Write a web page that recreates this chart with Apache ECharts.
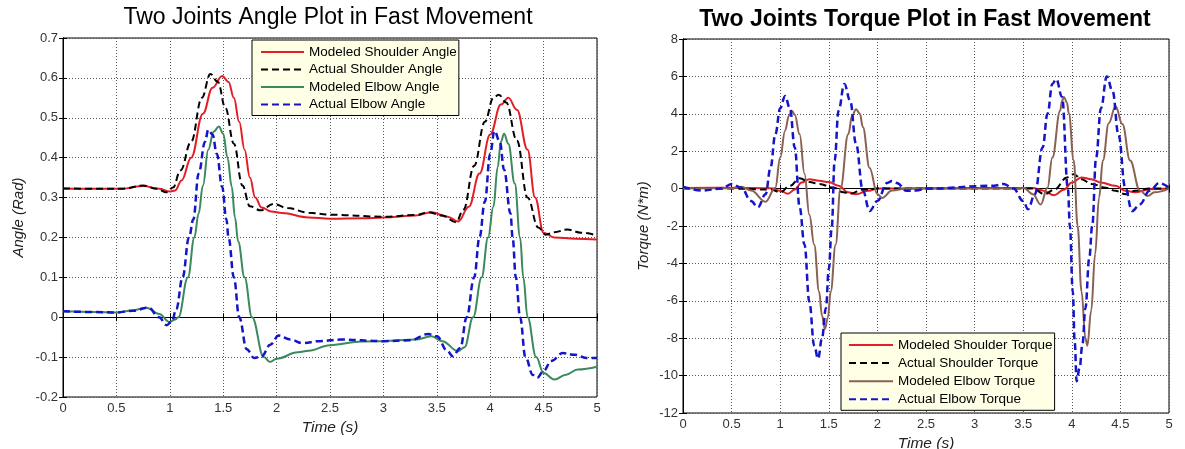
<!DOCTYPE html>
<html>
<head>
<meta charset="utf-8">
<script src="https://cdn.jsdelivr.net/npm/echarts@6/dist/echarts.min.js"></script>
<style>
  html, body { margin: 0; padding: 0; background: #fff; }
</style>
</head>
<body>
<div id="chart" style="width:1185px;height:449px"></div>
<script>
// ---- left plot: joint angles, [time (s), angle (rad)] ----
const shoulderAngleModel = [
  [0, 0.323], [0.3, 0.322], [0.55, 0.322], [0.75, 0.329], [0.9, 0.322], [1.0, 0.315], [1.05, 0.318],
  [1.11, 0.343], [1.2, 0.40], [1.31, 0.51], [1.4, 0.575], [1.49, 0.605], [1.55, 0.59], [1.6, 0.55],
  [1.65, 0.49], [1.7, 0.42], [1.75, 0.35], [1.8, 0.3], [1.86, 0.275], [1.95, 0.265], [2.05, 0.261],
  [2.3, 0.25], [2.5, 0.247], [2.8, 0.248], [3.0, 0.25], [3.3, 0.255], [3.45, 0.263], [3.6, 0.252],
  [3.7, 0.24], [3.8, 0.277], [3.9, 0.36], [4.0, 0.458], [4.1, 0.533], [4.17, 0.55], [4.25, 0.52],
  [4.35, 0.42], [4.42, 0.3], [4.5, 0.212], [4.6, 0.2], [4.8, 0.197], [5, 0.195]
];
const shoulderAngleActual = [
  [0, 0.323], [0.3, 0.322], [0.55, 0.322], [0.75, 0.33], [0.88, 0.322], [0.97, 0.313], [1.03, 0.325],
  [1.1, 0.368], [1.2, 0.44], [1.3, 0.55], [1.38, 0.61], [1.45, 0.59], [1.52, 0.525], [1.6, 0.435],
  [1.68, 0.33], [1.75, 0.278], [1.85, 0.268], [1.97, 0.284], [2.1, 0.274], [2.3, 0.262], [2.5, 0.257],
  [3.0, 0.252], [3.3, 0.256], [3.42, 0.263], [3.55, 0.255], [3.68, 0.238], [3.75, 0.27], [3.85, 0.38],
  [3.95, 0.49], [4.03, 0.55], [4.08, 0.558], [4.15, 0.538], [4.25, 0.443], [4.35, 0.3], [4.45, 0.225],
  [4.52, 0.207], [4.6, 0.213], [4.72, 0.22], [4.85, 0.212], [5, 0.205]
];
const elbowAngleModel = [
  [0, 0.015], [0.3, 0.013], [0.5, 0.012], [0.65, 0.017], [0.78, 0.024], [0.9, 0.008], [1.0, -0.012],
  [1.05, -0.006], [1.08, 0.0], [1.17, 0.1], [1.23, 0.2], [1.27, 0.26], [1.31, 0.33], [1.36, 0.42],
  [1.41, 0.465], [1.46, 0.478], [1.5, 0.46], [1.54, 0.40], [1.58, 0.327], [1.61, 0.25], [1.64, 0.19],
  [1.7, 0.1], [1.77, 0.0], [1.88, -0.1], [1.94, -0.112], [2.0, -0.104], [2.2, -0.088], [2.3, -0.084],
  [2.5, -0.07], [2.8, -0.061], [3.0, -0.06], [3.3, -0.056], [3.45, -0.048], [3.55, -0.06], [3.7, -0.085],
  [3.76, -0.075], [3.84, 0.0], [3.92, 0.1], [3.98, 0.2], [4.03, 0.277], [4.07, 0.376], [4.1, 0.44],
  [4.13, 0.46], [4.17, 0.435], [4.23, 0.335], [4.28, 0.2], [4.31, 0.1], [4.35, 0.0], [4.43, -0.1],
  [4.5, -0.14], [4.6, -0.156], [4.71, -0.144], [4.82, -0.131], [5, -0.124]
];
const elbowAngleActual = [
  [0, 0.015], [0.3, 0.013], [0.5, 0.012], [0.65, 0.016], [0.8, 0.024], [0.9, 0.0], [0.97, -0.02],
  [1.02, -0.01], [1.06, 0.02], [1.12, 0.1], [1.18, 0.2], [1.22, 0.245], [1.27, 0.36], [1.33, 0.44],
  [1.36, 0.47], [1.4, 0.458], [1.44, 0.41], [1.49, 0.327], [1.53, 0.245], [1.55, 0.2], [1.6, 0.1],
  [1.65, 0.0], [1.72, -0.08], [1.79, -0.102], [1.86, -0.098], [1.94, -0.069], [2.02, -0.046],
  [2.13, -0.056], [2.24, -0.065], [2.4, -0.06], [2.6, -0.056], [3.0, -0.06], [3.25, -0.058],
  [3.42, -0.042], [3.5, -0.048], [3.6, -0.085], [3.65, -0.098], [3.72, -0.077], [3.78, 0.0],
  [3.85, 0.1], [3.9, 0.2], [3.95, 0.29], [4.0, 0.41], [4.04, 0.467], [4.09, 0.44], [4.13, 0.37],
  [4.19, 0.26], [4.21, 0.2], [4.24, 0.1], [4.28, 0.0], [4.33, -0.1], [4.4, -0.145], [4.44, -0.152],
  [4.5, -0.135], [4.57, -0.11], [4.68, -0.09], [4.79, -0.094], [4.9, -0.102], [5, -0.102]
];

// ---- right plot: joint torques, [time (s), torque (N*m)] ----
const shoulderTorqueModel = [
  [0, 0.03], [0.5, 0.05], [0.9, 0.02], [1.0, -0.12], [1.08, -0.27], [1.15, -0.05], [1.22, 0.32],
  [1.3, 0.5], [1.4, 0.42], [1.5, 0.35], [1.6, 0.15], [1.7, -0.2], [1.78, -0.3], [1.9, -0.12],
  [2.0, 0], [2.5, 0.02], [3.0, 0.03], [3.6, 0.03], [3.7, -0.1], [3.82, -0.35], [3.92, -0.05],
  [4.0, 0.32], [4.1, 0.6], [4.2, 0.5], [4.3, 0.32], [4.45, 0.15], [4.55, -0.12], [4.65, -0.2],
  [4.8, -0.03], [5, 0]
];
const shoulderTorqueActual = [
  [0, 0], [0.5, 0], [0.9, -0.05], [1.0, -0.2], [1.1, 0.15], [1.2, 0.55], [1.3, 0.35], [1.4, 0.25],
  [1.55, 0.05], [1.65, -0.2], [1.72, -0.27], [1.85, -0.05], [2.0, 0], [3.6, 0], [3.72, -0.3],
  [3.82, -0.05], [3.95, 0.6], [4.02, 0.77], [4.1, 0.5], [4.2, 0.25], [4.35, 0.05], [4.45, -0.12],
  [4.55, -0.3], [4.65, -0.12], [4.8, 0], [5, 0]
];
const elbowTorqueModel = [
  [0, 0], [0.5, 0.02], [0.6, 0.1], [0.7, -0.1], [0.85, -0.7], [0.95, 0.05], [1.0, 1.66], [1.05, 3.1],
  [1.09, 3.9], [1.12, 4.16], [1.15, 3.95], [1.2, 2.9], [1.25, 0.8], [1.3, -1.4], [1.35, -3.0],
  [1.4, -5.5], [1.43, -6.8], [1.46, -7.5], [1.49, -6.9], [1.52, -5.5], [1.57, -3.0], [1.62, 0],
  [1.7, 2.9], [1.74, 3.9], [1.78, 4.25], [1.82, 4.0], [1.85, 3.3], [1.92, 1.1], [2.0, -0.3],
  [2.05, -0.5], [2.15, -0.1], [2.3, 0], [3.4, 0], [3.5, 0.05], [3.6, -0.3], [3.68, -0.85], [3.75, 0.05],
  [3.8, 1.66], [3.88, 4.16], [3.9, 4.7], [3.92, 4.9], [3.95, 4.6], [3.97, 4.0], [4.02, 1.5],
  [4.06, -2.0], [4.1, -5.5], [4.14, -8.0], [4.16, -8.4], [4.2, -6.5], [4.24, -3.5], [4.28, -0.5],
  [4.32, 1.5], [4.38, 3.5], [4.45, 4.4], [4.52, 3.45], [4.6, 1.5], [4.7, -0.1], [4.78, -0.4],
  [4.85, -0.2], [5, 0]
];
const elbowTorqueActual = [
  [0, 0.1], [0.2, -0.1], [0.4, 0], [0.5, 0.25], [0.6, 0.05], [0.7, -0.66], [0.77, -1.0], [0.85, -0.3],
  [0.9, 1.1], [0.95, 2.9], [1.0, 4.3], [1.05, 4.95], [1.1, 4.3], [1.15, 2.2], [1.2, -1.0], [1.25, -3.0],
  [1.3, -6.06], [1.35, -8.4], [1.39, -9.1], [1.43, -8.0], [1.47, -6.4], [1.5, -4.3], [1.53, -2.1],
  [1.56, 1.5], [1.6, 4.16], [1.66, 5.6], [1.72, 4.7], [1.78, 2.4], [1.85, -0.1], [1.92, -1.2],
  [2.0, -0.66], [2.1, 0.3], [2.15, 0.4], [2.2, 0.3], [2.3, -0.12], [2.4, -0.1], [2.5, 0], [3.2, 0.15],
  [3.3, 0.25], [3.4, 0], [3.5, -0.66], [3.55, -1.1], [3.62, -0.3], [3.7, 2.2], [3.75, 4.0], [3.8, 5.6],
  [3.84, 5.85], [3.9, 4.9], [3.96, 0], [3.98, -2.0], [4.01, -5.5], [4.03, -8.2], [4.05, -10.3],
  [4.08, -9.6], [4.11, -8.3], [4.14, -6.4], [4.18, -3.7], [4.21, -2.0], [4.25, 1.66], [4.3, 4.3],
  [4.36, 6.0], [4.42, 5.2], [4.48, 2.9], [4.55, 0.05], [4.62, -1.2], [4.7, -0.84], [4.8, -0.12],
  [4.9, 0.3], [5, 0.05]
];

const angleNames = ['Modeled Shoulder Angle', 'Actual Shoulder Angle', 'Modeled Elbow Angle', 'Actual Elbow Angle'];
const torqueNames = ['Modeled Shoulder Torque', 'Actual Shoulder Torque', 'Modeled Elbow Torque', 'Actual Elbow Torque'];

const FONT = '"Liberation Sans", Arial, sans-serif';
const RED = '#e31e24', BLACK = '#000', GREEN = '#3a8a5c', BLUE = '#1414c8', BROWN = '#8b6153';
const DASH = [7, 4];

function bottomAxis(grid, min, max, step, gap) {
  return {
    gridIndex: grid, type: 'value', position: 'bottom', min: min, max: max, interval: step,
    name: 'Time (s)', nameLocation: 'middle', nameGap: gap,
    nameTextStyle: { fontFamily: FONT, fontSize: 15.5, fontStyle: 'italic', color: '#222' },
    axisLine: { lineStyle: { color: '#000', width: 1 } },
    axisTick: { inside: true, length: 4, lineStyle: { color: '#000' } },
    axisLabel: { fontFamily: FONT, fontSize: 13, color: '#333', margin: 5 },
    splitLine: { show: true, lineStyle: { color: '#555', width: 1, type: [1, 2] } }
  };
}
function topAxis(grid, min, max, step) {
  return {
    gridIndex: grid, type: 'value', position: 'top', min: min, max: max, interval: step,
    axisLine: { lineStyle: { color: '#000', width: 1 } },
    axisTick: { inside: true, length: 4, lineStyle: { color: '#000' } },
    axisLabel: { show: false }, splitLine: { show: false }
  };
}
function leftAxis(grid, min, max, step, name, gap) {
  return {
    gridIndex: grid, type: 'value', position: 'left', min: min, max: max, interval: step,
    name: name, nameLocation: 'middle', nameGap: gap,
    nameTextStyle: { fontFamily: FONT, fontSize: 15, fontStyle: 'italic', color: '#222' },
    axisLine: { show: true, lineStyle: { color: '#000', width: 1 } },
    axisTick: { show: true, inside: true, length: 4, lineStyle: { color: '#000' } },
    axisLabel: { fontFamily: FONT, fontSize: 13, color: '#333', margin: 5 },
    splitLine: { show: true, lineStyle: { color: '#555', width: 1, type: [1, 2] } }
  };
}
function rightAxis(grid, min, max, step) {
  return {
    gridIndex: grid, type: 'value', position: 'right', min: min, max: max, interval: step,
    axisLine: { show: true, lineStyle: { color: '#000', width: 1 } },
    axisTick: { show: true, inside: true, length: 4, lineStyle: { color: '#000' } },
    axisLabel: { show: false }, splitLine: { show: false }
  };
}
function line(name, data, axis, color, width, dashed) {
  return {
    name: name, type: 'line', data: data, xAxisIndex: axis, yAxisIndex: axis,
    symbol: 'none', smooth: 0.4, smoothMonotone: 'x',
    lineStyle: { color: color, width: width, type: dashed ? DASH : 'solid' },
    itemStyle: { color: color }
  };
}
function legendBox(names, left, top, width, gap, padding) {
  return {
    data: names, orient: 'vertical', left: left, top: top,
    itemWidth: width, itemHeight: 12, itemGap: gap, padding: padding,
    backgroundColor: '#ffffe6', borderColor: '#000', borderWidth: 1, borderRadius: 0,
    selectedMode: false,
    itemStyle: { opacity: 0 },
    textStyle: { fontFamily: FONT, fontSize: 13.5, color: '#000' }
  };
}

const options = {
  animation: false,
  backgroundColor: '#fff',
  title: [
    { text: 'Two Joints Angle Plot in Fast Movement', left: 328, top: 6, textAlign: 'center', padding: 0,
      textStyle: { fontFamily: FONT, fontSize: 23, fontWeight: 'normal', color: '#000' } },
    { text: 'Two Joints Torque Plot in Fast Movement', left: 925, top: 8, textAlign: 'center', padding: 0,
      textStyle: { fontFamily: FONT, fontSize: 23, fontWeight: 'bold', color: '#000' } }
  ],
  grid: [
    { left: 63, top: 38, width: 534, height: 359, show: true, borderColor: '#000', borderWidth: 1,
      backgroundColor: '#fff', containLabel: false, outerBoundsMode: 'none' },
    { left: 683, top: 39, width: 486, height: 374, show: true, borderColor: '#000', borderWidth: 1,
      backgroundColor: '#fff', containLabel: false, outerBoundsMode: 'none' }
  ],
  xAxis: [
    bottomAxis(0, 0, 5, 0.5, 23),
    topAxis(0, 0, 5, 0.5),
    bottomAxis(1, 0, 5, 0.5, 21),
    topAxis(1, 0, 5, 0.5)
  ],
  yAxis: [
    leftAxis(0, -0.2, 0.7, 0.1, 'Angle (Rad)', 37),
    rightAxis(0, -0.2, 0.7, 0.1),
    leftAxis(1, -12, 8, 2, 'Torque (N*m)', 32),
    rightAxis(1, -12, 8, 2)
  ],
  legend: [
    legendBox(angleNames, 252, 40, 43, 3.5, [5, 2, 4, 8]),
    legendBox(torqueNames, 841, 333, 44, 4.1, [5, 2, 4, 7])
  ],
  series: [
    line(angleNames[0], shoulderAngleModel, 0, RED, 2, false),
    line(angleNames[1], shoulderAngleActual, 0, BLACK, 2, true),
    line(angleNames[2], elbowAngleModel, 0, GREEN, 2, false),
    line(angleNames[3], elbowAngleActual, 0, BLUE, 2.5, true),
    line(torqueNames[0], shoulderTorqueModel, 2, RED, 2, false),
    line(torqueNames[1], shoulderTorqueActual, 2, BLACK, 2, true),
    line(torqueNames[2], elbowTorqueModel, 2, BROWN, 2, false),
    line(torqueNames[3], elbowTorqueActual, 2, BLUE, 2.5, true)
  ]
};

// series on the right plot sit on x/y axis index 2 (the bottom/left pair of grid 1)
const chart = echarts.init(document.getElementById('chart'));
chart.setOption(options);
</script>
</body>
</html>
